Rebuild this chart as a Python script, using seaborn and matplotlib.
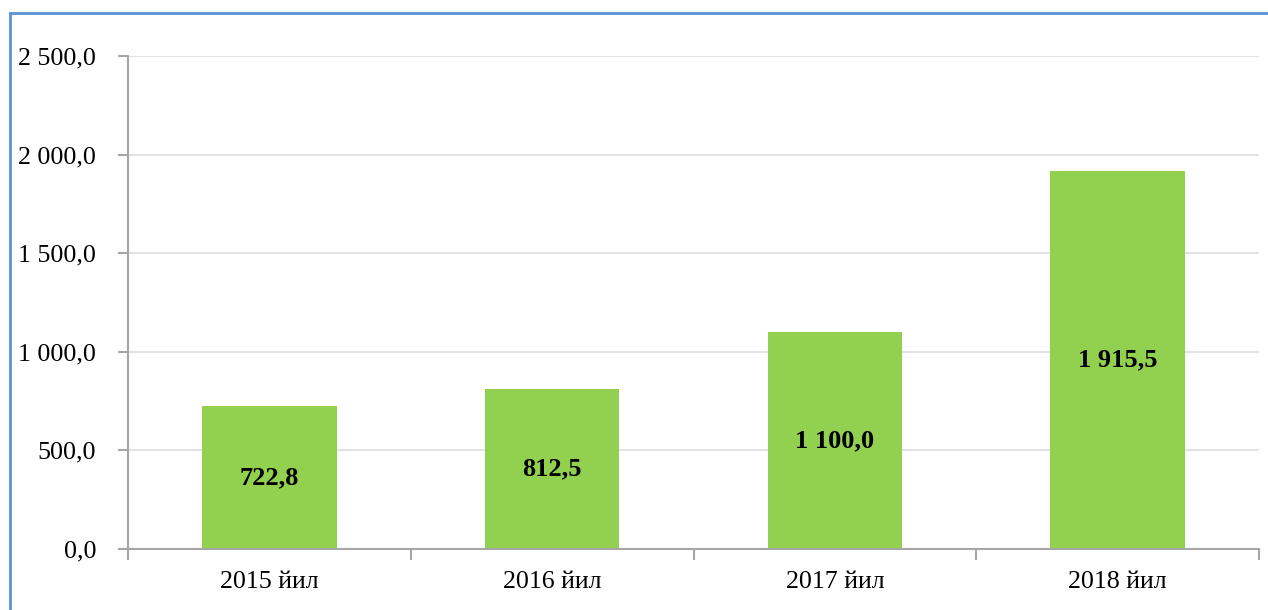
import matplotlib
matplotlib.use("Agg")
import matplotlib.pyplot as plt
import seaborn as sns
import pandas as pd
from matplotlib.patches import Rectangle
from matplotlib.ticker import FixedLocator, FuncFormatter

categories = ["2015 йил", "2016 йил", "2017 йил", "2018 йил"]
values = [722.8, 812.5, 1100.0, 1915.5]
yticks = [0, 500, 1000, 1500, 2000, 2500]

sns.set_theme(style="white")
plt.rcParams['font.family'] = ['Liberation Serif', 'DejaVu Serif']

df = pd.DataFrame({"year": categories, "value": values})

fig = plt.figure(figsize=(12.68, 6.10), dpi=100)
ax = fig.add_axes([128/1268, 1-549/610, (1259-128)/1268, (549-56)/610])

sns.barplot(data=df, x="year", y="value", color="#92D050", width=0.475,
            saturation=1, ax=ax, edgecolor="none")

def fmt(v):
    s = f"{v:,.1f}"
    return s.replace(",", " ").replace(".", ",")

ax.set_ylim(0, 2500)
ax.set_xlim(-0.5, len(categories) - 0.5)
ax.set_yticks(yticks)
ax.yaxis.set_major_formatter(FuncFormatter(lambda v, p: fmt(v)))
ax.set_xlabel("")
ax.set_ylabel("")

ax.grid(axis="y", color="#E3E3E3", linewidth=1.5)
ax.set_axisbelow(True)
for s in ["top", "right"]:
    ax.spines[s].set_visible(False)
for s in ["left", "bottom"]:
    ax.spines[s].set_color("#A6A6A6")
    ax.spines[s].set_linewidth(1.5)

ax.tick_params(axis="y", which="major", length=7, width=1.5, color="#A6A6A6",
               labelsize=18.7, pad=16, left=True, labelcolor="black")
ax.tick_params(axis="x", which="major", length=0, labelsize=18.7, pad=16,
               labelcolor="black")
ax.xaxis.set_minor_locator(FixedLocator([i - 0.5 for i in range(len(categories) + 1)]))
ax.tick_params(axis="x", which="minor", length=8, width=1.5, color="#A6A6A6",
               bottom=True, direction="out")

for i, v in enumerate(values):
    ax.text(i, v / 2, fmt(v), ha="center", va="center", fontsize=19,
            fontweight="bold", color="black")

fig.patches.append(Rectangle((10/1268, -0.1), 1.5, 1 - 13/610 + 0.1,
                             transform=fig.transFigure, fill=False,
                             edgecolor="#5B93D8", linewidth=2, figure=fig))

fig.savefig("out.png", dpi=100)
